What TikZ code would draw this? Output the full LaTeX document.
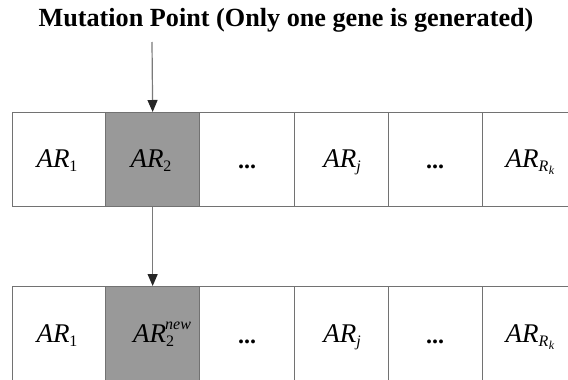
\documentclass[tikz,border=0pt]{standalone}
\usepackage{fontspec}
\setmainfont{Liberation Serif}
\usetikzlibrary{arrows.meta}
% small lowered / raised indices for the gene labels
\newcommand{\lowidx}[1]{\raisebox{-4pt}{\fontsize{16}{16}\selectfont #1}}
\newcommand{\lowlowidx}[1]{\raisebox{-3pt}{\fontsize{12}{12}\selectfont #1}}
\newcommand{\highidx}[1]{\raisebox{13pt}{\fontsize{16}{16}\selectfont\itshape #1}}
\definecolor{cellline}{HTML}{727272}
\definecolor{cellfill}{HTML}{999999}
\definecolor{shaft}{HTML}{7A7A7A}
\begin{document}
\begin{tikzpicture}[x=1pt,y=-1pt,
  cell/.style={draw=cellline,line width=1.3pt,minimum height=94pt,inner sep=0pt,anchor=north west},
  marked/.style={cell,fill=cellfill},
  gene/.style={anchor=base,inner sep=0pt,font=\fontsize{27}{27}\selectfont},
  dots/.style={anchor=base,inner sep=0pt,font=\fontsize{24}{24}\selectfont\bfseries},
  arr/.style={draw=shaft,line width=1.2pt,-{Triangle[width=10pt,length=12pt,color=black!85]}},
  title/.style={anchor=base,inner sep=0pt,font=\fontsize{26.2}{27}\selectfont\bfseries}]
\useasboundingbox (0,0) rectangle (568,380);
\clip (0,0) rectangle (568,380);

% heading
\node[title] (head) at (286,27) {Mutation Point (Only one gene is generated)};
\coordinate (pin) at (152,42);

% parent chromosome
\node[cell,minimum width=93pt]  (t1) at (12,112) {};
\node[marked,minimum width=94pt] (t2) at (105,112) {};
\node[cell,minimum width=95pt]  (t3) at (199,112) {};
\node[cell,minimum width=94pt]  (t4) at (294,112) {};
\node[cell,minimum width=94pt]  (t5) at (388,112) {};
\node[cell,minimum width=96pt]  (t6) at (482,112) {};

\node[gene] (g1) at (57,167) {\textit{AR}\lowidx{1}};
\node[gene] (g2) at (151,167) {\textit{AR}\lowidx{2}};
\node[dots] (g3) at (247,168) {...};
\node[gene] (g4) at (342,167) {\textit{AR}\lowidx{\textit{j}}};
\node[dots] (g5) at (435,168) {...};
\node[gene] (g6) at (530,167) {\textit{AR}\lowidx{\textit{R}\kern0.5pt\lowlowidx{\textit{k}}}};

% offspring chromosome
\node[cell,minimum width=93pt]  (b1) at (12,286) {};
\node[marked,minimum width=94pt] (b2) at (105,286) {};
\node[cell,minimum width=95pt]  (b3) at (199,286) {};
\node[cell,minimum width=94pt]  (b4) at (294,286) {};
\node[cell,minimum width=94pt]  (b5) at (388,286) {};
\node[cell,minimum width=96pt]  (b6) at (482,286) {};

\node[gene] (h1) at (57,342) {\textit{AR}\lowidx{1}};
\node[gene,anchor=base west] (h2) at (133,342)
  {\textit{AR}\rlap{\lowidx{2}}\kern-1pt\highidx{new}};
\node[dots] (h3) at (247,343) {...};
\node[gene] (h4) at (342,342) {\textit{AR}\lowidx{\textit{j}}};
\node[dots] (h5) at (435,343) {...};
\node[gene] (h6) at (530,342) {\textit{AR}\lowidx{\textit{R}\kern0.5pt\lowlowidx{\textit{k}}}};

% mutation arrows
\draw[arr] (pin) -- (t2.north);
\draw[arr] (t2.south) -- (b2.north);
\end{tikzpicture}
\end{document}
